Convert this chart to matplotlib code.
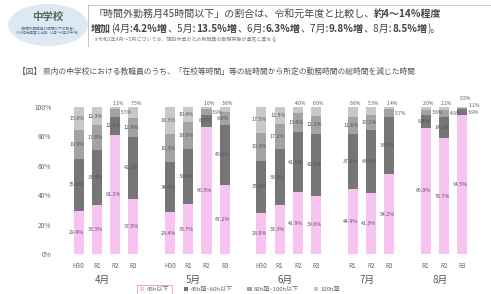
import numpy as np
import matplotlib
matplotlib.use("Agg")
from matplotlib import pyplot as plt
from matplotlib.patches import Ellipse, Rectangle

plt.rcParams['font.family'] = ['Noto Sans CJK JP', 'DejaVu Sans']

# data
months = ['4月', '5月', '6月', '7月', '8月']
years = [['H30', 'R1', 'R2', 'R3'],
         ['H30', 'R1', 'R2', 'R3'],
         ['H30', 'R1', 'R2', 'R3'],
         ['R1', 'R2', 'R3'],
         ['R1', 'R2', 'R3']]
under45 = [29.4, 33.3, 81.2, 37.5,  28.4, 33.7, 86.5, 47.2,  28.0, 33.3, 41.9, 39.6,  44.4, 41.3, 54.2,  86.0, 78.7, 94.5]
h45_80 = [35.1, 37.4, 12.2, 42.2,  34.0, 37.9, 8.0, 40.6,  35.2, 38.0, 41.1, 42.2,  37.4, 43.3, 38.7,  8.4, 14.2, 3.9]
h80_100 = [19.9, 17.0, 5.5, 12.8,  19.3, 18.0, 3.9, 8.6,  19.3, 17.2, 13.0, 12.2,  11.6, 10.1, 5.7,  3.6, 4.9, 1.1]
over100 = [15.6, 12.3, 1.1, 7.5,  18.3, 10.4, 1.6, 3.6,  17.5, 11.5, 4.0, 6.0,  6.6, 5.3, 1.4,  2.0, 2.2, 0.5]
legend_labels = ['45h以下', '45h超~80h以下', '80h超~100h以下', '100h超']
colors = ['#f7c4f2', '#767676', '#a3a3a3', '#c8c8c8']

W, H = 491, 294
fig = plt.figure(figsize=(W / 100, H / 100), dpi=100)
fig.patch.set_facecolor('white')

# ---- header ----
fig.patches.append(Ellipse((48 / W, 1 - 25 / H), 80 / W, 42 / H, transform=fig.transFigure,
                           facecolor='#dce9f2', edgecolor='none'))
fig.text(48 / W, 1 - 17 / H, '中学校', ha='center', va='center', fontsize=7.5,
         weight='bold', color='#56675e')
fig.text(48 / W, 1 - 28 / H, '（時間外勤務月45時間以下の割合）', ha='center', va='center',
         fontsize=2.6, color='#4a6a8a')
fig.text(48 / W, 1 - 33 / H, '※令和元年度と比較（4月～8月の平均）', ha='center', va='center',
         fontsize=2.6, color='#4a6a8a')
fig.add_artist(plt.Line2D([88 / W, 1], [1 - 5 / H, 1 - 5 / H], color='#bbbbbb', lw=0.6))
fig.add_artist(plt.Line2D([88 / W, 88 / W], [1 - 5 / H, 1 - 46 / H], color='#bbbbbb', lw=0.6))

renderer = fig.canvas.get_renderer()


def runs(x, y, parts, size, color='#444444'):
    for txt, bold in parts:
        t = fig.text(x / W, 1 - y / H, txt, fontsize=size, va='center', ha='left',
                     weight='bold' if bold else 'normal', color=color)
        bb = t.get_window_extent(renderer)
        x = bb.x1


runs(93, 14, [('「時間外勤務月45時間以下」の割合は、令和元年度と比較し、', False),
              ('約4～14%程度', True)], 7.2)
runs(91, 29, [('増加', True), ('(4月:', False), ('4.2%増', True), ('、5月:', False),
              ('13.5%増', True), ('、6月:', False), ('6.3%増', True), ('、7月:', False),
              ('9.8%増', True), ('、8月:', False), ('8.5%増', True), (')。', False)], 7.2)
fig.text(93 / W, 1 - 40 / H, '※令和2年4月～5月については、臨時休業のため教職員の勤務実態が通常と異なる',
         fontsize=3.6, color='#888888', va='center')

fig.text(18 / W, 1 - 72 / H,
         '【図】 県内の中学校における教職員のうち、「在校等時間」等の総時間から所定の勤務時間の総時間を減じた時間',
         fontsize=5.6, color='#555555', va='center')

# ---- chart ----
ax = fig.add_axes([64 / W, 40 / H, (475 - 64) / W, 147 / H])
pos = []
slot = 0
for g in years:
    pos.extend(range(slot, slot + len(g)))
    slot += len(g) + 1
pos = np.array(pos, dtype=float)

series = [np.array(under45), np.array(h45_80), np.array(h80_100), np.array(over100)]
bottom = np.zeros(len(pos))
lab_color = '#5a4a66'
last_right = np.full(len(pos), -100.0)
for k, (vals, c, lab) in enumerate(zip(series, colors, legend_labels)):
    ax.bar(pos, vals, 0.55, bottom=bottom, color=c, label=lab, edgecolor='none')
    for i, (xi, b, v) in enumerate(zip(pos, bottom, vals)):
        if v >= 8:
            ax.text(xi - 0.1, b + v / 2, f'{v:.1f}%', ha='center', va='center',
                    fontsize=3.8, color=lab_color)
        elif k == len(series) - 1:
            # thin top segment: label above the bar
            yl = max(102.5, last_right[i] + 4.5)
            ax.text(xi + 0.15, yl, f'{v:.1f}%', ha='center', va='center',
                    fontsize=3.5, color=lab_color)
        else:
            yl = max(b + v / 2, last_right[i] + 4.5)
            last_right[i] = yl
            ax.text(xi + 0.32, yl, f'{v:.1f}%', ha='left',
                    va='center', fontsize=3.5, color=lab_color)
    bottom = bottom + vals

ax.set_xlim(-0.8, 21.7)
ax.set_ylim(0, 100)
ax.set_yticks(np.arange(0, 101, 20))
ax.set_yticklabels([f'{v}%' for v in range(0, 101, 20)], fontsize=4.8, color='#666666')
ax.set_xticks(pos)
ax.set_xticklabels([y for g in years for y in g], fontsize=4.6, color='#666666')
ax.tick_params(length=0, pad=6)
ax.tick_params(axis='y', pad=9)
for s in ax.spines.values():
    s.set_visible(False)

starts = 0
for m, g in zip(months, years):
    cx = starts + (len(g) - 1) / 2
    ax.text(cx - 0.2, -17.5, m, ha='center', va='center', fontsize=7, color='#555555',
            clip_on=False)
    starts += len(g) + 1

leg = fig.legend(loc='center', bbox_to_anchor=(240 / W, 1 - 289.5 / H), ncol=4, fontsize=4.3,
                 frameon=False, handlelength=0.8, handleheight=0.8, handletextpad=0.4,
                 columnspacing=2.4, borderpad=0.2)
for t in leg.get_texts():
    t.set_color('#666666')

fig.canvas.draw()
bb = leg.get_texts()[0].get_window_extent(renderer)
hb = leg.legend_handles[0].get_window_extent(renderer)
fig.patches.append(Rectangle(((hb.x0 - 3) / W, (bb.y0 - 2) / H), (bb.x1 - hb.x0 + 6) / W,
                             (bb.height + 4) / H, transform=fig.transFigure, fill=False,
                             edgecolor='#e89ab8', lw=0.6))

fig.savefig('out.png', dpi=100)
